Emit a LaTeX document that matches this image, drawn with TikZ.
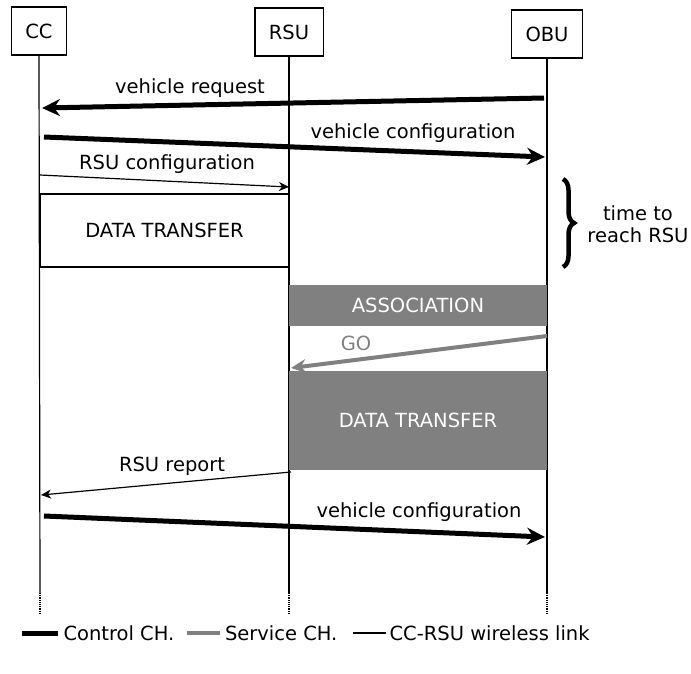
\documentclass[tikz,border=0pt]{standalone}
\usepackage{fontspec}
\setmainfont{DejaVu Sans}
\usetikzlibrary{arrows.meta}
\usetikzlibrary{decorations.pathreplacing}
\definecolor{svcgray}{RGB}{128,128,128}

\begin{document}
\begin{tikzpicture}[x=1pt,y=-1pt,
  every node/.style={font=\fontsize{19.5}{23}\selectfont},
  entity/.style={draw,line width=1.2pt,inner xsep=14pt,minimum height=48pt},
  life/.style={line width=1.2pt},
  ctrlmsg/.style={line width=5pt,-{Stealth[length=18pt,width=17pt,inset=6pt]}},
  svcmsg/.style={svcgray,line width=4pt,-{Stealth[length=15pt,width=14pt,inset=5pt]}},
  linkmsg/.style={line width=1.2pt,-{Stealth[length=10pt,width=9pt,inset=3pt]}},
  phase/.style={fill=svcgray,text=white,minimum width=258pt}]
\useasboundingbox (0,0) rectangle (691,673);

% entities and lifelines
\node[entity] (cc) at (39,31) {CC};
\node[entity] (rsu) at (289,32) {RSU};
\node[entity] (obu) at (547,34) {OBU};
\draw[life] (cc.south) -- (40,593) coordinate (cc-end);
\draw[life] (rsu.south) -- (289,593) coordinate (rsu-end);
\draw[life] (obu.south) -- (547,593) coordinate (obu-end);
\draw[life,densely dotted] (cc-end) -- ++(0,20);
\draw[life,densely dotted] (rsu-end) -- ++(0,20);
\draw[life,densely dotted] (obu-end) -- ++(0,20);

% messages
\coordinate (vr-a) at (544,98);  \coordinate (vr-b) at (42,108);
\coordinate (vc-a) at (44,137);  \coordinate (vc-b) at (545,157);
\coordinate (rc-a) at (40,175);  \coordinate (rc-b) at (289,187);
\draw[ctrlmsg] (vr-a) -- (vr-b);
\draw[ctrlmsg] (vc-a) -- (vc-b);
\draw[linkmsg] (rc-a) -- (rc-b);
\node (vr-lbl) at (190,88) {vehicle request};
\node (vc-lbl) at (413,133) {vehicle configuration};
\node (rc-lbl) at (167,164) {RSU configuration};

\node[draw,line width=1.2pt,minimum width=249pt,minimum height=73pt] (dt-cc) at (164.5,230.5) {DATA TRANSFER};

\draw[decorate,decoration={brace,amplitude=11pt},line width=4.5pt] (563,179) -- (563,267) coordinate[midway] (brace-mid);
\node[align=center,font=\fontsize{19.5}{22}\selectfont] (reach-lbl) at (638,224) {time to\\reach RSU};

\node[phase,minimum height=41pt] (assoc) at (418,305.5) {ASSOCIATION};
\coordinate (go-a) at (547,336);  \coordinate (go-b) at (291,368);
\draw[svcmsg] (go-a) -- (go-b);
\node[svcgray] (go-lbl) at (356,343) {GO};
\node[phase,minimum height=99pt] (dt-obu) at (418,420.5) {DATA TRANSFER};

\coordinate (rr-a) at (291,472);  \coordinate (rr-b) at (41,495);
\coordinate (vc2-a) at (44,516);  \coordinate (vc2-b) at (545,537);
\draw[linkmsg] (rr-a) -- (rr-b);
\draw[ctrlmsg] (vc2-a) -- (vc2-b);
\node (rr-lbl) at (172,466) {RSU report};
\node (vc2-lbl) at (419,512) {vehicle configuration};

% legend
\draw[line width=5pt] (22,633) -- (58,633) node[right,inner xsep=3pt] (leg-ctrl) {Control CH.};
\draw[svcgray,line width=4pt] (187,633) -- (220,633) node[right,text=black,inner xsep=3pt] (leg-svc) {Service CH.};
\draw[line width=1.2pt] (353,633) -- (386,633) node[right,inner xsep=3pt] (leg-link) {CC-RSU wireless link};
\end{tikzpicture}
\end{document}
